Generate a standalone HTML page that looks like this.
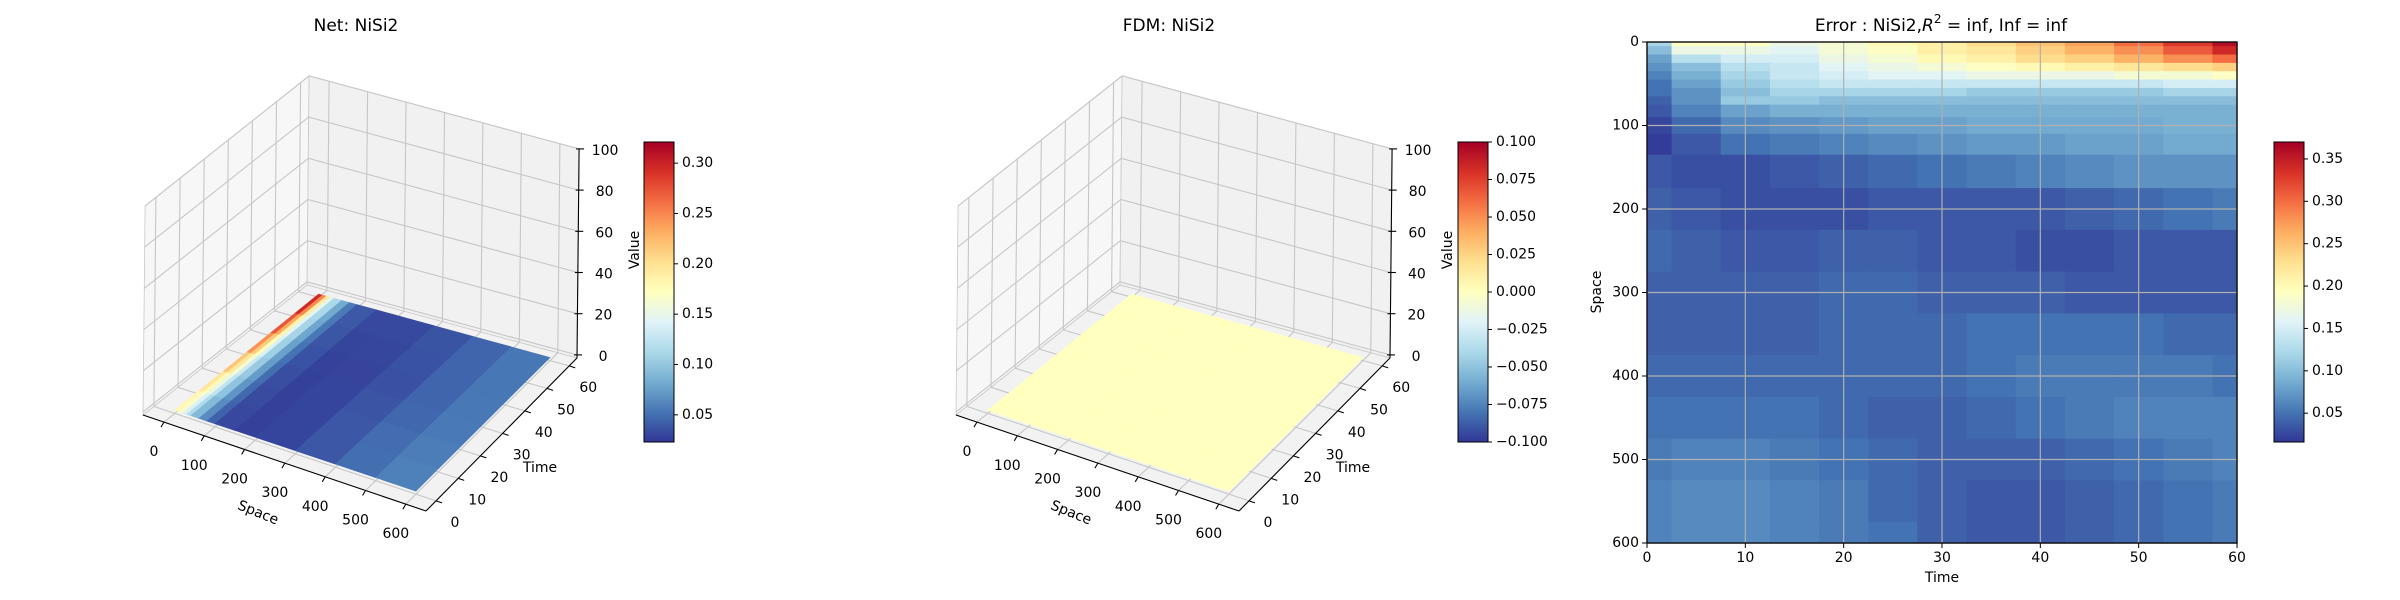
<!DOCTYPE html>
<html><head><meta charset="utf-8">
<style>
html,body{margin:0;padding:0;background:#fff;}
svg{display:block;font-family:"DejaVu Sans","Liberation Sans",sans-serif;}
</style></head>
<body>
<svg id="fig" width="2400" height="600" viewBox="0 0 2400 600" xmlns="http://www.w3.org/2000/svg">
<rect x="0" y="0" width="2400" height="600" fill="#fff"/>
<g id="p1"></g>
<g id="p2"></g>
<g id="p3"></g>
</svg>
<script>
// ---------- data ----------
const surfSpace = [0,10,20,30,40,60,80,100,150,200,300,400,500,600];
const surfTime = [0,10,20,30,40,50,60];
const netValues = [
 [0.18,0.17,0.15,0.12,0.10,0.075,0.05,0.035,0.028,0.027,0.032,0.045,0.055,0.062],
 [0.19,0.18,0.16,0.13,0.11,0.08,0.055,0.035,0.028,0.027,0.032,0.045,0.055,0.062],
 [0.21,0.20,0.17,0.14,0.115,0.085,0.06,0.04,0.028,0.027,0.032,0.045,0.052,0.06],
 [0.24,0.22,0.19,0.15,0.12,0.09,0.06,0.04,0.03,0.027,0.032,0.04,0.05,0.06],
 [0.27,0.25,0.20,0.16,0.125,0.09,0.065,0.045,0.03,0.028,0.032,0.04,0.05,0.058],
 [0.30,0.27,0.21,0.16,0.13,0.095,0.065,0.045,0.032,0.03,0.033,0.04,0.05,0.058],
 [0.32,0.29,0.22,0.17,0.13,0.095,0.07,0.045,0.035,0.03,0.035,0.04,0.05,0.058]
];
const fdmValues = [
 [0,0,0,0,0,0,0,0,0,0,0,0,0,0],[0,0,0,0,0,0,0,0,0,0,0,0,0,0],
 [0,0,0,0,0,0,0,0,0,0,0,0,0,0],[0,0,0,0,0,0,0,0,0,0,0,0,0,0],
 [0,0,0,0,0,0,0,0,0,0,0,0,0,0],[0,0,0,0,0,0,0,0,0,0,0,0,0,0],
 [0,0,0,0,0,0,0,0,0,0,0,0,0,0]
];
const spaceTicks = [0,100,200,300,400,500,600];
const timeTicks = [0,10,20,30,40,50,60];
const zTicks = [0,20,40,60,80,100];
const netCbTicks = [0.05,0.10,0.15,0.20,0.25,0.30];
const netCbLabels = ["0.05","0.10","0.15","0.20","0.25","0.30"];
const fdmCbTicks = [-0.1,-0.075,-0.05,-0.025,0,0.025,0.05,0.075,0.1];
const fdmCbLabels = ["\u22120.100","\u22120.075","\u22120.050","\u22120.025","0.000","0.025","0.050","0.075","0.100"];
const errCbTicks = [0.05,0.10,0.15,0.20,0.25,0.30,0.35];
const errCbLabels = ["0.05","0.10","0.15","0.20","0.25","0.30","0.35"];
const hmTime = [0,5,10,15,20,25,30,35,40,45,50,55,60];
const hmSpace = [0,10,20,30,40,50,60,70,80,100,120,150,200,250,300,350,400,450,500,550,600];
const hmValues = [
 [0.12,0.19,0.19,0.17,0.18,0.20,0.21,0.23,0.25,0.27,0.30,0.33,0.36],
 [0.10,0.17,0.17,0.16,0.18,0.19,0.21,0.22,0.24,0.26,0.28,0.31,0.34],
 [0.08,0.13,0.15,0.15,0.17,0.18,0.20,0.21,0.23,0.24,0.26,0.28,0.30],
 [0.07,0.10,0.13,0.14,0.16,0.17,0.18,0.19,0.20,0.21,0.22,0.23,0.24],
 [0.06,0.09,0.12,0.14,0.15,0.16,0.16,0.17,0.17,0.17,0.18,0.18,0.19],
 [0.05,0.08,0.11,0.13,0.14,0.14,0.14,0.14,0.14,0.14,0.14,0.15,0.15],
 [0.05,0.07,0.10,0.12,0.12,0.12,0.12,0.11,0.11,0.11,0.11,0.12,0.12],
 [0.04,0.07,0.11,0.11,0.10,0.10,0.10,0.10,0.10,0.10,0.10,0.10,0.10],
 [0.035,0.06,0.08,0.09,0.09,0.09,0.09,0.09,0.09,0.09,0.09,0.09,0.09],
 [0.025,0.045,0.065,0.07,0.075,0.08,0.08,0.085,0.085,0.085,0.085,0.09,0.09],
 [0.02,0.035,0.05,0.055,0.06,0.065,0.07,0.075,0.075,0.08,0.08,0.085,0.085],
 [0.035,0.03,0.03,0.035,0.04,0.045,0.05,0.055,0.06,0.065,0.07,0.07,0.07],
 [0.04,0.035,0.03,0.03,0.03,0.035,0.035,0.035,0.035,0.04,0.045,0.05,0.055],
 [0.045,0.04,0.035,0.035,0.04,0.04,0.035,0.035,0.03,0.03,0.035,0.035,0.035],
 [0.04,0.04,0.04,0.04,0.045,0.045,0.04,0.04,0.04,0.035,0.035,0.035,0.035],
 [0.04,0.04,0.04,0.04,0.045,0.045,0.045,0.05,0.05,0.05,0.05,0.045,0.045],
 [0.045,0.045,0.045,0.045,0.045,0.045,0.045,0.05,0.055,0.055,0.055,0.055,0.05],
 [0.05,0.05,0.05,0.05,0.045,0.04,0.04,0.045,0.05,0.055,0.06,0.06,0.06],
 [0.055,0.06,0.06,0.055,0.05,0.045,0.04,0.04,0.04,0.045,0.05,0.055,0.06],
 [0.06,0.065,0.065,0.06,0.055,0.045,0.04,0.035,0.035,0.04,0.045,0.05,0.055],
 [0.06,0.065,0.065,0.06,0.055,0.05,0.04,0.035,0.035,0.04,0.045,0.05,0.055]
];
const hmXTicks = [0,10,20,30,40,50,60];
const hmYTicks = [0,100,200,300,400,500,600];

// ---------- helpers ----------
const NS = "http://www.w3.org/2000/svg";
function mk(parent, tag, attrs, text){
  const e = document.createElementNS(NS, tag);
  for (const k in attrs) e.setAttribute(k, attrs[k]);
  if (text !== undefined) e.textContent = text;
  parent.appendChild(e);
  return e;
}
const CM = [[49,54,149],[69,117,180],[116,173,209],[171,217,233],[224,243,248],[255,255,191],[254,224,144],[253,174,97],[244,109,67],[215,48,39],[165,0,38]];
function cmap(f){
  f = Math.max(0, Math.min(1, f));
  const p = f*10, i = Math.min(9, Math.floor(p)), r = p - i;
  const a = CM[i], b = CM[i+1];
  return "rgb(" + [0,1,2].map(k => Math.round(a[k] + (b[k]-a[k])*r)).join(",") + ")";
}
function pts(arr){ return arr.map(p => p[0].toFixed(1)+","+p[1].toFixed(1)).join(" "); }

// ---------- 3D panel ----------
const S0=-52, S1=650, T0=-4.5, T1=63.5, ZL=-1.5, ZH=100, ZPX=2.06;
function draw3D(g, dx, values, vmin, vmax, title, cb){
  const L=[143+dx,415], F=[426+dx,511], R=[577+dx,358], B=[307+dx,285];
  function P(s,t,z){
    const u=(s-S0)/(S1-S0), v=(t-T0)/(T1-T0);
    const w1=(1-u)*(1-v), w2=u*(1-v), w3=u*v, w4=(1-u)*v;
    const x=w1*L[0]+w2*F[0]+w3*R[0]+w4*B[0];
    const y=w1*L[1]+w2*F[1]+w3*R[1]+w4*B[1];
    const h=(z-ZL)*ZPX;
    return [x + h*0.01, y - h];
  }
  let e;
  e = mk(g,"polygon",{points:pts([P(S0,T0,ZL),P(S0,T1,ZL),P(S0,T1,ZH),P(S0,T0,ZH)]),fill:"#f7f7f7",stroke:"#c8c8c8","stroke-width":0.8});
   
  e = mk(g,"polygon",{points:pts([P(S0,T1,ZL),P(S1,T1,ZL),P(S1,T1,ZH),P(S0,T1,ZH)]),fill:"#f1f1f1",stroke:"#c8c8c8","stroke-width":0.8});
   
  e = mk(g,"polygon",{points:pts([P(S0,T0,ZL),P(S1,T0,ZL),P(S1,T1,ZL),P(S0,T1,ZL)]),fill:"#f2f2f2",stroke:"#c8c8c8","stroke-width":0.8});
   
  const gg = mk(g,"g",{stroke:"#c6c6c6","stroke-width":1.1,fill:"none"});
   
  timeTicks.forEach(t=>{ mk(gg,"polyline",{points:pts([P(S0,t,ZL),P(S0,t,ZH)])}); mk(gg,"polyline",{points:pts([P(S0,t,ZL),P(S1,t,ZL)])}); });
  spaceTicks.forEach(s=>{ mk(gg,"polyline",{points:pts([P(s,T1,ZL),P(s,T1,ZH)])}); mk(gg,"polyline",{points:pts([P(s,T0,ZL),P(s,T1,ZL)])}); });
  zTicks.forEach(z=>{ mk(gg,"polyline",{points:pts([P(S0,T0,z),P(S0,T1,z),P(S1,T1,z)])}); });
  const sg = mk(g,"g",{});
   
  for (let j=surfTime.length-2;j>=0;j--){
    for (let i=0;i<surfSpace.length-1;i++){
      const s0=surfSpace[i], s1=surfSpace[i+1], t0=surfTime[j], t1=surfTime[j+1];
      const v=(values[j][i]+values[j][i+1]+values[j+1][i]+values[j+1][i+1])/4;
      const c=cmap((v-vmin)/(vmax-vmin));
      const cell = mk(sg,"polygon",{points:pts([P(s0,t0,0),P(s1,t0,0),P(s1,t1,0),P(s0,t1,0)]),fill:c,stroke:c,"stroke-width":0.6});
      
      
    }
  }
  const ax = mk(g,"g",{stroke:"#000","stroke-width":1.1,fill:"none"});
   
  mk(ax,"polyline",{points:pts([P(S0,T0,ZL),P(S1,T0,ZL)])});
  mk(ax,"polyline",{points:pts([P(S1,T0,ZL),P(S1,T1,ZL)])});
  mk(ax,"polyline",{points:pts([P(S1,T1,ZL),P(S1,T1,ZH)])});
  const tx = {"font-size":14,fill:"#000","text-anchor":"middle","dominant-baseline":"central"};
  spaceTicks.forEach(s=>{
    const p=P(s,T0,ZL);
    mk(ax,"line",{x1:p[0],y1:p[1],x2:p[0]-3,y2:p[1]+5});
    const l = mk(g,"text",Object.assign({x:p[0]-10,y:p[1]+30},tx),String(s));
     
  });
  timeTicks.forEach(t=>{
    const p=P(S1,t,ZL);
    mk(ax,"line",{x1:p[0],y1:p[1],x2:p[0]+6,y2:p[1]+2});
    const l = mk(g,"text",Object.assign({x:p[0]+19,y:p[1]+22},tx),String(t));
     
  });
  zTicks.forEach(z=>{
    const p=P(S1,T1,z);
    mk(ax,"line",{x1:p[0]-3,y1:p[1],x2:p[0]+5,y2:p[1]});
    const l = mk(g,"text",Object.assign({x:p[0]+26,y:p[1]+2},tx),String(z));
     
  });
  let t;
  t = mk(g,"text",Object.assign({x:258+dx,y:513,transform:"rotate(22 "+(258+dx)+" 513)"},tx),"Space");
   
  t = mk(g,"text",Object.assign({x:540+dx,y:468},tx),"Time");
   
  t = mk(g,"text",Object.assign({x:635+dx,y:250,transform:"rotate(-90 "+(635+dx)+" 250)"},tx),"Value");
   
  t = mk(g,"text",Object.assign({x:356+dx,y:26},tx,{"font-size":17}),title);
   
  drawCb(g, cb.x, cb.min, cb.max, cb.ticks, cb.labels, cb.id);
}

function drawCb(g, x, vmin, vmax, ticks, labels, id){
  const top=142, bot=442, w=30;
  const defs = mk(g,"defs",{});
  const lg = mk(defs,"linearGradient",{id:id,x1:0,y1:1,x2:0,y2:0});
  for (let k=0;k<=20;k++) mk(lg,"stop",{offset:(k/20),"stop-color":cmap(k/20)});
  const cbg = mk(g,"g",{});
   
  mk(cbg,"rect",{x:x,y:top,width:w,height:bot-top,fill:"url(#"+id+")",stroke:"#000","stroke-width":1});
  ticks.forEach((v,i)=>{
    const y = bot - (v-vmin)/(vmax-vmin)*(bot-top);
    mk(cbg,"line",{x1:x+w,y1:y,x2:x+w+4,y2:y,stroke:"#000","stroke-width":1});
    const l = mk(cbg,"text",{x:x+w+8,y:y,"font-size":14,"dominant-baseline":"central",fill:"#000"},labels[i]);
     
  });
}

draw3D(document.getElementById("p1"), 0, netValues, 0.023, 0.321, "Net: NiSi2",
  {x:644, min:0.023, max:0.321, ticks:netCbTicks, labels:netCbLabels, id:"g1"});
draw3D(document.getElementById("p2"), 813, fdmValues, -0.1, 0.1, "FDM: NiSi2",
  {x:1458, min:-0.1, max:0.1, ticks:fdmCbTicks, labels:fdmCbLabels, id:"g2"});

// ---------- heatmap ----------
(function(){
  const g = document.getElementById("p3");
  const X0=1647, X1=2237, Y0=42, Y1=543, vmin=0.016, vmax=0.37;
  const xs = t => X0 + t/60*(X1-X0);
  const ys = s => Y0 + s/600*(Y1-Y0);
  const hg = mk(g,"g",{});
   
  for (let i=0;i<hmSpace.length;i++){
    const sa = i===0 ? 0 : (hmSpace[i-1]+hmSpace[i])/2;
    const sb = i===hmSpace.length-1 ? 600 : (hmSpace[i]+hmSpace[i+1])/2;
    for (let j=0;j<hmTime.length;j++){
      const ta = j===0 ? 0 : (hmTime[j-1]+hmTime[j])/2;
      const tb = j===hmTime.length-1 ? 60 : (hmTime[j]+hmTime[j+1])/2;
      const c = cmap((hmValues[i][j]-vmin)/(vmax-vmin));
      const r = mk(hg,"rect",{x:xs(ta),y:ys(sa),width:xs(tb)-xs(ta)+0.6,height:ys(sb)-ys(sa)+0.6,fill:c});
      
      
    }
  }
  const gr = mk(g,"g",{stroke:"#b0b0b0","stroke-width":1.2});
   
  hmXTicks.forEach(t=>mk(gr,"line",{x1:xs(t),y1:Y0,x2:xs(t),y2:Y1}));
  hmYTicks.forEach(s=>mk(gr,"line",{x1:X0,y1:ys(s),x2:X1,y2:ys(s)}));
  const fr = mk(g,"rect",{x:X0,y:Y0,width:X1-X0,height:Y1-Y0,fill:"none",stroke:"#000","stroke-width":1.3});
   
  hmXTicks.forEach(t=>{
    mk(g,"line",{x1:xs(t),y1:Y1,x2:xs(t),y2:Y1+5,stroke:"#000"});
    const l = mk(g,"text",{x:xs(t),y:Y1+15,"font-size":14,"text-anchor":"middle","dominant-baseline":"central"},String(t));
     
  });
  hmYTicks.forEach(s=>{
    mk(g,"line",{x1:X0-5,y1:ys(s),x2:X0,y2:ys(s),stroke:"#000"});
    const l = mk(g,"text",{x:X0-8,y:ys(s),"font-size":14,"text-anchor":"end","dominant-baseline":"central"},String(s));
     
  });
  let t = mk(g,"text",{x:(X0+X1)/2,y:578,"font-size":14,"text-anchor":"middle","dominant-baseline":"central"},"Time");
   
  t = mk(g,"text",{x:1597,y:292,"font-size":14,"text-anchor":"middle","dominant-baseline":"central",transform:"rotate(-90 1597 292)"},"Space");
   
  const title = mk(g,"text",{x:1941,y:26,"font-size":17,"text-anchor":"middle","dominant-baseline":"central"});
   
  title.appendChild(document.createTextNode("Error : NiSi2,"));
  mk(title,"tspan",{"font-style":"italic"},"R");
  mk(title,"tspan",{"font-size":12,dy:-7},"2");
  mk(title,"tspan",{dy:7}," = inf, Inf = inf");
  drawCb(g, 2274, vmin, vmax, errCbTicks, errCbLabels, "g3");
})();
</script>
</body></html>
